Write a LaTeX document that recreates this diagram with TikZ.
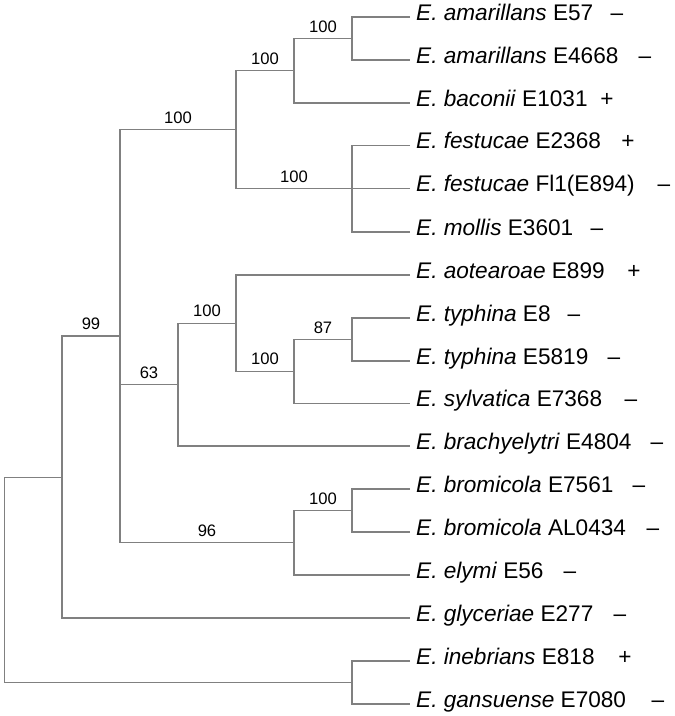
\documentclass[tikz,border=0pt]{standalone}
\usepackage{fontspec}
\setmainfont{Liberation Sans}
\definecolor{branch}{RGB}{128,128,128}
\begin{document}
\begin{tikzpicture}[x=1pt,y=-1pt,
  br/.style={draw=branch,line width=1.1pt},
  leaf/.style={anchor=base west,inner sep=0pt,font=\fontsize{22.6}{26}\selectfont},
  mk/.style={anchor=base,inner sep=0pt,font=\fontsize{22.6}{26}\selectfont},
  bs/.style={anchor=base,inner sep=0pt,yshift=6.4pt,font=\fontsize{16.6}{19}\selectfont,text=black}]
\useasboundingbox (0,0) rectangle (675,716);
% leaves (ends of branches)
\foreach \i/\y in {1/17,2/60,3/103,4/145.5,5/188.5,6/232,7/275,8/318,9/361,10/403.5,11/446,12/489,13/532,14/575,15/618,16/661,17/704}
  \coordinate (L\i) at (410,\y);
% internal nodes
\coordinate (nam) at (352,38.5);
\coordinate (nbac) at (294,70.75);
\coordinate (nfes) at (352,188.5);
\coordinate (ntop) at (236,129.6);
\coordinate (ntyp) at (352,339.5);
\coordinate (nsyl) at (294,371.25);
\coordinate (naot) at (236,323.1);
\coordinate (n63) at (178,384.6);
\coordinate (nbrom) at (352,510.5);
\coordinate (n96) at (294,542.75);
\coordinate (n99) at (120,336);
\coordinate (ngly) at (62,477.3);
\coordinate (nine) at (352,682.5);
\coordinate (root) at (4.5,579.9);
% branches: one path per internal node
\draw[br] (L1) -| (nam) |- (L2);
\draw[br] (nam) -| node[bs,pos=0.25]{100} (nbac) |- (L3);
\draw[br] (L4) -| (nfes) |- (L6);
\draw[br] (nfes) -- (L5);
\draw[br] (nbac) -| node[bs,pos=0.25]{100} (ntop) |- node[bs,pos=0.75]{100} (nfes);
\draw[br] (L8) -| (ntyp) |- (L9);
\draw[br] (ntyp) -| node[bs,pos=0.25]{87} (nsyl) |- (L10);
\draw[br] (L7) -| (naot) |- node[bs,pos=0.75]{100} (nsyl);
\draw[br] (naot) -| node[bs,pos=0.25]{100} (n63) |- (L11);
\draw[br] (L12) -| (nbrom) |- (L13);
\draw[br] (nbrom) -| node[bs,pos=0.25]{100} (n96) |- (L14);
\draw[br] (ntop) -| node[bs,pos=0.25]{100} (n99) |- node[bs,pos=0.75]{96} (n96);
\draw[br] (n99 |- n63) -- node[bs,pos=0.5]{63} (n63);
\draw[br] (n99) -| node[bs,pos=0.25]{99} (ngly) |- (L15);
\draw[br] (L16) -| (nine) |- (L17);
\draw[br] (ngly) -| (root) |- (nine);
% leaf labels
\node[leaf] (t1) at (416,20) {\textit{E. amarillans} E57};
\node[leaf] (t2) at (416,63) {\textit{E. amarillans} E4668};
\node[leaf] (t3) at (416,106) {\textit{E. baconii} E1031};
\node[leaf] (t4) at (416,148.5) {\textit{E. festucae} E2368};
\node[leaf] (t5) at (416,191.5) {\textit{E. festucae} Fl1(E894)};
\node[leaf] (t6) at (416,235) {\textit{E. mollis} E3601};
\node[leaf] (t7) at (416,278) {\textit{E. aotearoae} E899};
\node[leaf] (t8) at (416,321) {\textit{E. typhina} E8};
\node[leaf] (t9) at (416,364) {\textit{E. typhina} E5819};
\node[leaf] (t10) at (416,406.5) {\textit{E. sylvatica} E7368};
\node[leaf] (t11) at (416,449) {\textit{E. brachyelytri} E4804};
\node[leaf] (t12) at (416,492) {\textit{E. bromicola} E7561};
\node[leaf] (t13) at (416,535) {\textit{E. bromicola} AL0434};
\node[leaf] (t14) at (416,578) {\textit{E. elymi} E56};
\node[leaf] (t15) at (416,621) {\textit{E. glyceriae} E277};
\node[leaf] (t16) at (416,664) {\textit{E. inebrians} E818};
\node[leaf] (t17) at (416,707) {\textit{E. gansuense} E7080};
% marks
\node[mk] (m1) at (617,20) {–};
\node[mk] (m2) at (645,63) {–};
\node[mk] (m3) at (607,106) {+};
\node[mk] (m4) at (628,148.5) {+};
\node[mk] (m5) at (664,191.5) {–};
\node[mk] (m6) at (597,235) {–};
\node[mk] (m7) at (634,278) {+};
\node[mk] (m8) at (574,321) {–};
\node[mk] (m9) at (614,364) {–};
\node[mk] (m10) at (631,406.5) {–};
\node[mk] (m11) at (657,449) {–};
\node[mk] (m12) at (639,492) {–};
\node[mk] (m13) at (653,535) {–};
\node[mk] (m14) at (570,578) {–};
\node[mk] (m15) at (620,621) {–};
\node[mk] (m16) at (625,664) {+};
\node[mk] (m17) at (658,707) {–};
\end{tikzpicture}
\end{document}
